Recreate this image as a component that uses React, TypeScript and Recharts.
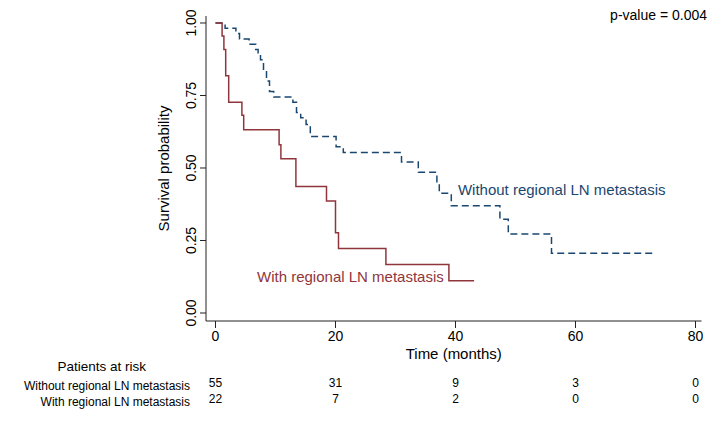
import React from 'react';
import { LineChart, Line, XAxis, YAxis, ReferenceDot } from 'recharts';

// ---- data ----
const withoutTime = [0, 1.6, 3.4, 4.0, 5.6, 6.7, 7.1, 7.5, 8.0, 8.5, 9.0, 9.7, 12.9, 13.5, 14.2, 15.1, 15.8, 20.1, 21.3, 31.0, 33.8, 36.9, 37.3, 39.3, 47.4, 48.8, 56.0, 73.25];
const withoutSurv = [1, 0.982, 0.964, 0.945, 0.927, 0.909, 0.891, 0.873, 0.836, 0.8, 0.764, 0.745, 0.727, 0.691, 0.673, 0.65, 0.609, 0.573, 0.553, 0.521, 0.485, 0.449, 0.413, 0.37, 0.323, 0.272, 0.206, 0.206];

const withTime = [0, 1.1, 1.4, 1.7, 2.2, 4.4, 4.7, 10.6, 10.9, 13.4, 18.5, 20.0, 20.5, 28.4, 38.9, 43.1];
const withSurv = [1, 0.955, 0.909, 0.818, 0.727, 0.682, 0.632, 0.58, 0.532, 0.436, 0.386, 0.277, 0.222, 0.167, 0.111, 0.111];

const xTicks = [0, 20, 40, 60, 80];
const yTicks = [0, 0.25, 0.5, 0.75, 1];
const yTickLabels = ['0.00', '0.25', '0.50', '0.75', '1.00'];

const riskWithout = [55, 31, 9, 3, 0];
const riskWith = [22, 7, 2, 0, 0];

const seriesNames = ['Without regional LN metastasis', 'With regional LN metastasis'];
const pValueText = 'p-value = 0.004';

const withoutData = withoutTime.map((t, i) => ({ t, s: withoutSurv[i] }));
const withData = withTime.map((t, i) => ({ t, s: withSurv[i] }));

const FONT = '"Liberation Sans", Arial, Helvetica, sans-serif';
const BLUE = '#1a476f';
const RED = '#90353b';
const xDomain = [-1.583, 81];
const yDomain = [-0.0276, 1.0241];

const YTick = (props: any) => {
  const { x, y, payload } = props;
  const idx = yTicks.indexOf(payload.value);
  return (
    <text
      x={0}
      y={0}
      transform={`translate(${x - 7},${y}) rotate(-90)`}
      textAnchor="middle"
      dominantBaseline="central"
      fontSize={14}
      fontFamily={FONT}
      fill="#000"
    >
      {idx >= 0 ? yTickLabels[idx] : payload.value}
    </text>
  );
};

const YLabel = (props: any) => {
  const vb = props.viewBox || { x: 146, y: 16, width: 60, height: 305 };
  const cx = vb.x + 17;
  const cy = vb.y + vb.height / 2;
  return (
    <text
      x={0}
      y={0}
      transform={`translate(${cx},${cy}) rotate(-90)`}
      textAnchor="middle"
      dominantBaseline="central"
      fontSize={15}
      fontFamily={FONT}
      fill="#000"
    >
      Survival probability
    </text>
  );
};

const TitleLabel = (props: any) => {
  const vb = props.viewBox || { x: 206, y: 361 };
  return (
    <text x={vb.x - 60} y={vb.y + 5} textAnchor="end" dominantBaseline="central" fontSize={13.5} fontFamily={FONT} fill="#000">
      Patients at risk
    </text>
  );
};

const riskFormatter = (arr: number[]) => (v: number) => {
  const i = xTicks.indexOf(v);
  return i >= 0 ? String(arr[i]) : '';
};

export default function App() {
  return (
    <div style={{ position: 'absolute', left: 0, top: 0, width: 721, height: 424, background: '#fff', fontFamily: FONT }}>
      <LineChart width={721} height={424} margin={{ top: 16, right: 19.5, left: 146, bottom: 14 }}>
        <XAxis
          xAxisId="a_main"
          type="number"
          dataKey="t"
          domain={xDomain}
          allowDataOverflow
          ticks={xTicks}
          height={40}
          tickSize={7}
          tickMargin={3}
          stroke="#222"
          tick={{ fill: '#000', fontSize: 14, fontFamily: FONT }}
          label={{ value: 'Time (months)', position: 'insideBottom', offset: 2, fill: '#000', fontSize: 15, fontFamily: FONT }}
        />
        <XAxis
          xAxisId="b_title"
          type="number"
          dataKey="t"
          domain={xDomain}
          allowDataOverflow
          ticks={xTicks}
          height={17}
          axisLine={false}
          tickLine={false}
          tick={false}
          label={<TitleLabel />}
        />
        <XAxis
          xAxisId="c_r1"
          type="number"
          dataKey="t"
          domain={xDomain}
          allowDataOverflow
          ticks={xTicks}
          height={16}
          axisLine={false}
          tickLine={false}
          tickSize={0}
          tickMargin={0}
          tickFormatter={riskFormatter(riskWithout)}
          tick={{ fill: '#000', fontSize: 12, fontFamily: FONT }}
          label={{ value: seriesNames[0], position: 'left', offset: 16, fill: '#000', fontSize: 12, fontFamily: FONT }}
        />
        <XAxis
          xAxisId="d_r2"
          type="number"
          dataKey="t"
          domain={xDomain}
          allowDataOverflow
          ticks={xTicks}
          height={16}
          axisLine={false}
          tickLine={false}
          tickSize={0}
          tickMargin={0}
          tickFormatter={riskFormatter(riskWith)}
          tick={{ fill: '#000', fontSize: 12, fontFamily: FONT }}
          label={{ value: seriesNames[1], position: 'left', offset: 16, fill: '#000', fontSize: 12, fontFamily: FONT }}
        />
        <YAxis
          type="number"
          domain={yDomain}
          allowDataOverflow
          ticks={yTicks}
          width={60}
          tickSize={6}
          tickMargin={2}
          stroke="#222"
          tick={<YTick />}
          label={<YLabel />}
        />
        {/* invisible carriers so the risk-table axes get a scale */}
        <Line xAxisId="b_title" data={withoutData} dataKey="s" stroke="none" dot={false} activeDot={false} isAnimationActive={false} />
        <Line xAxisId="c_r1" data={withoutData} dataKey="s" stroke="none" dot={false} activeDot={false} isAnimationActive={false} />
        <Line xAxisId="d_r2" data={withData} dataKey="s" stroke="none" dot={false} activeDot={false} isAnimationActive={false} />
        <Line
          xAxisId="a_main"
          data={withoutData}
          dataKey="s"
          type="stepAfter"
          stroke={BLUE}
          strokeWidth={1.5}
          strokeDasharray="7 4"
          dot={false}
          activeDot={false}
          isAnimationActive={false}
        />
        <Line
          xAxisId="a_main"
          data={withData}
          dataKey="s"
          type="stepAfter"
          stroke={RED}
          strokeWidth={1.5}
          dot={false}
          activeDot={false}
          isAnimationActive={false}
        />
        <ReferenceDot
          xAxisId="a_main"
          x={40.4}
          y={0.424}
          r={0}
          fill="none"
          stroke="none"
          label={{ value: seriesNames[0], position: 'right', offset: 0, fill: BLUE, fontSize: 15, fontFamily: FONT }}
        />
        <ReferenceDot
          xAxisId="a_main"
          x={6.92}
          y={0.124}
          r={0}
          fill="none"
          stroke="none"
          label={{ value: seriesNames[1], position: 'right', offset: 0, fill: RED, fontSize: 15, fontFamily: FONT }}
        />
      </LineChart>
      <div style={{ position: 'absolute', right: 14, top: 7, fontSize: 14, fontFamily: FONT, color: '#000', whiteSpace: 'nowrap' }}>
        {pValueText}
      </div>
    </div>
  );
}
